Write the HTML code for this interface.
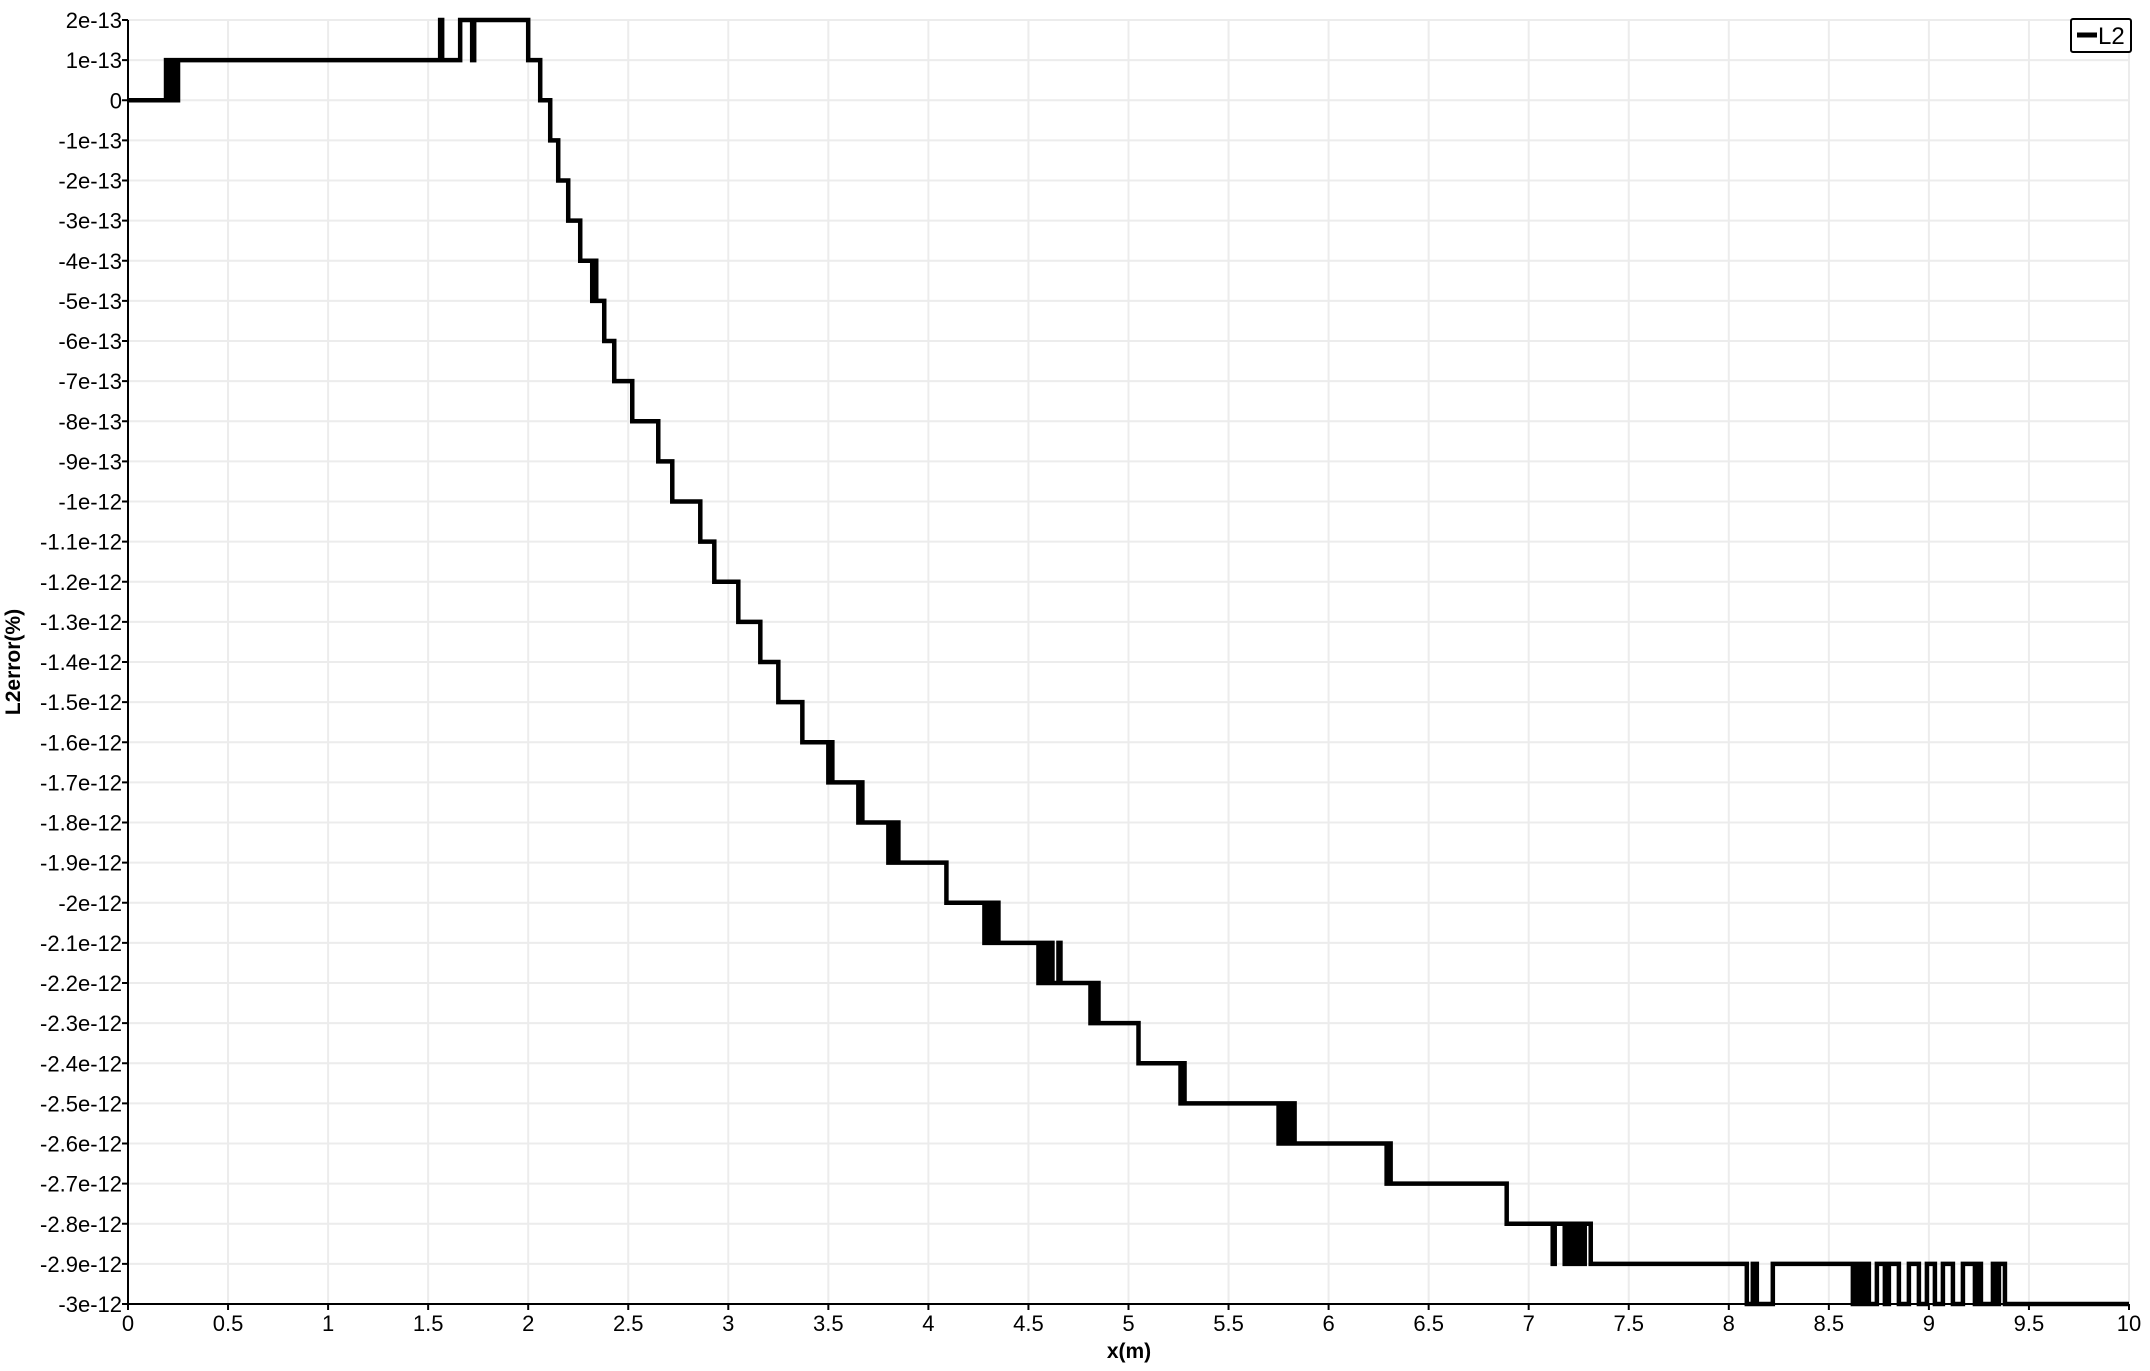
<!DOCTYPE html>
<html><head><meta charset="utf-8"><style>
html,body{margin:0;padding:0;background:#fff;}
svg text{font-family:"Liberation Sans","DejaVu Sans",sans-serif;}
</style></head><body>
<svg id="chart" width="2150" height="1366" xmlns="http://www.w3.org/2000/svg">
<g id="grid"></g>
<g id="axes"></g>
<path id="line" fill="none" stroke="#000" stroke-width="4.5" stroke-linejoin="miter"/>
<text x="1129" y="1358" font-size="21" font-weight="bold" text-anchor="middle">x(m)</text>
<text transform="translate(20,662) rotate(-90)" font-size="21" font-weight="bold" text-anchor="middle">L2error(%)</text>
<g>
<rect x="2071" y="19" width="60" height="33" rx="2" fill="#fff" stroke="#000" stroke-width="2"/>
<line x1="2077" y1="35" x2="2097" y2="35" stroke="#000" stroke-width="5"/>
<text x="2098" y="44" font-size="24">L2</text>
</g>
</svg>
<script>
const xTicks=[0,0.5,1,1.5,2,2.5,3,3.5,4,4.5,5,5.5,6,6.5,7,7.5,8,8.5,9,9.5,10];
const xTickLabels=["0","0.5","1","1.5","2","2.5","3","3.5","4","4.5","5","5.5","6","6.5","7","7.5","8","8.5","9","9.5","10"];
const yTicks=[2,1,0,-1,-2,-3,-4,-5,-6,-7,-8,-9,-10,-11,-12,-13,-14,-15,-16,-17,-18,-19,-20,-21,-22,-23,-24,-25,-26,-27,-28,-29,-30];
const yTickLabels=["2e-13","1e-13","0","-1e-13","-2e-13","-3e-13","-4e-13","-5e-13","-6e-13","-7e-13","-8e-13","-9e-13","-1e-12","-1.1e-12","-1.2e-12","-1.3e-12","-1.4e-12","-1.5e-12","-1.6e-12","-1.7e-12","-1.8e-12","-1.9e-12","-2e-12","-2.1e-12","-2.2e-12","-2.3e-12","-2.4e-12","-2.5e-12","-2.6e-12","-2.7e-12","-2.8e-12","-2.9e-12","-3e-12"];
// step breakpoints (x in m), value in units of 1e-13 after each breakpoint
const stepX=[0,0.19,0.2,0.21,0.22,0.23,0.24,0.25,1.56,1.57,1.66,1.72,1.73,2.0,2.06,2.11,2.15,2.2,2.26,2.32,2.33,2.34,2.38,2.43,2.52,2.65,2.72,2.86,2.93,3.05,3.16,3.25,3.37,3.5,3.51,3.52,3.65,3.66,3.67,3.8,3.81,3.83,3.84,3.85,4.09,4.28,4.3,4.32,4.33,4.35,4.55,4.57,4.59,4.6,4.62,4.65,4.66,4.81,4.83,4.85,5.05,5.26,5.27,5.28,5.75,5.77,5.79,5.81,5.83,6.29,6.3,6.31,6.89,7.12,7.13,7.18,7.2,7.22,7.24,7.26,7.28,7.31,8.09,8.12,8.14,8.22,8.62,8.64,8.66,8.68,8.7,8.74,8.78,8.8,8.85,8.9,8.95,8.99,9.03,9.07,9.12,9.17,9.23,9.24,9.26,9.32,9.34,9.35,9.38];
const stepY=[0,1,0,1,0,1,0,1,2,1,2,1,2,1,0,-1,-2,-3,-4,-5,-4,-5,-6,-7,-8,-9,-10,-11,-12,-13,-14,-15,-16,-17,-16,-17,-18,-17,-18,-19,-18,-19,-18,-19,-20,-21,-20,-21,-20,-21,-22,-21,-22,-21,-22,-21,-22,-23,-22,-23,-24,-25,-24,-25,-26,-25,-26,-25,-26,-27,-26,-27,-28,-29,-28,-29,-28,-29,-28,-29,-28,-29,-30,-29,-30,-29,-30,-29,-30,-29,-30,-29,-30,-29,-30,-29,-30,-29,-30,-29,-30,-29,-30,-29,-30,-29,-30,-29,-30];
const xEnd=10;
const X0=128,X1=2129,Y0=20,Y1=1304;
const sx=v=>X0+(v-0)/(10-0)*(X1-X0);
const sy=v=>Y0+(2-v)/(2-(-30))*(Y1-Y0);
const NS="http://www.w3.org/2000/svg";
const grid=document.getElementById('grid'),axes=document.getElementById('axes');
function mk(tag,attrs,parent){const e=document.createElementNS(NS,tag);for(const k in attrs)e.setAttribute(k,attrs[k]);parent.appendChild(e);return e;}
xTicks.forEach((t,i)=>{
  const g=mk('line',{x1:sx(t),x2:sx(t),y1:Y0,y2:Y1,stroke:'#ececec','stroke-width':2},grid);
  
  
  const tk=mk('line',{x1:sx(t),x2:sx(t),y1:Y1,y2:Y1+6,stroke:'#000','stroke-width':2},axes);
  
  
  const tx=mk('text',{x:sx(t),y:Y1+27,'font-size':22,'text-anchor':'middle'},axes);
  tx.textContent=xTickLabels[i];
  
  
});
yTicks.forEach((t,i)=>{
  const g=mk('line',{x1:X0,x2:X1,y1:sy(t),y2:sy(t),stroke:'#ececec','stroke-width':2},grid);
  
  
  const tk=mk('line',{x1:X0-6,x2:X0,y1:sy(t),y2:sy(t),stroke:'#000','stroke-width':2},axes);
  
  
  const tx=mk('text',{x:X0-6,y:sy(t)+8,'font-size':22,'text-anchor':'end'},axes);
  tx.textContent=yTickLabels[i];
  
  
});
const ax=mk('path',{d:`M${X0} ${Y0}V${Y1}H${X1}`,stroke:'#000','stroke-width':2,fill:'none'},axes);


let d=`M${sx(stepX[0])} ${sy(stepY[0])}`;
for(let i=1;i<stepX.length;i++){d+=`H${sx(stepX[i])}V${sy(stepY[i])}`;}
d+=`H${sx(xEnd)}`;
document.getElementById('line').setAttribute('d',d);
</script>
</body></html>
